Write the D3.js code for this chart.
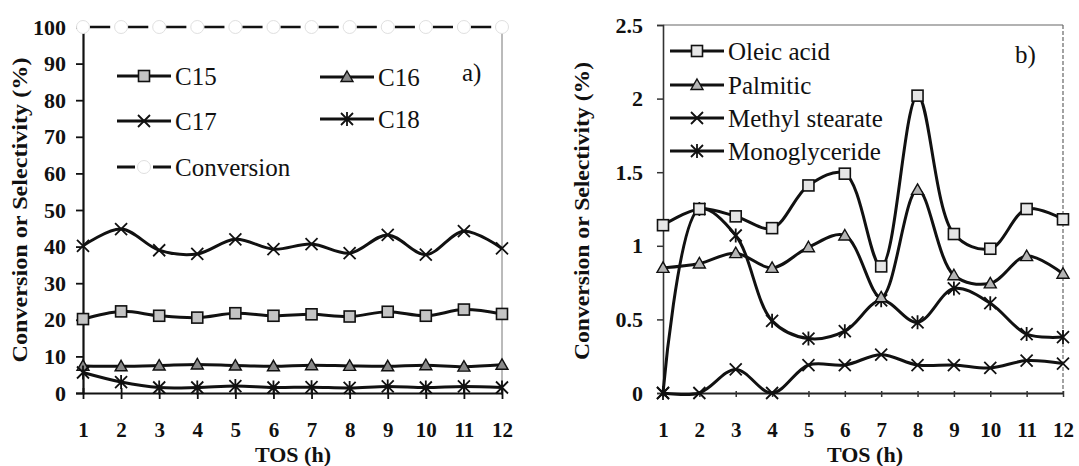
<!DOCTYPE html>
<html>
<head>
<meta charset="utf-8">
<script src="https://cdn.jsdelivr.net/npm/d3@7"></script>
<style>
  body { margin: 0; background: #fff; }
  svg { display: block; }
  text { font-family: "Liberation Serif", "Times New Roman", "DejaVu Serif", serif; }
</style>
</head>
<body>
<svg width="1079" height="466"></svg>
<script>
// TOS (h)
const tos = [1, 2, 3, 4, 5, 6, 7, 8, 9, 10, 11, 12];

// panel a) selectivity / conversion (%)
const c15 = [20.2, 22.3, 21.1, 20.6, 21.8, 21.1, 21.5, 20.9, 22.2, 21.1, 22.8, 21.6];
const c16 = [7.4, 7.3, 7.5, 7.8, 7.5, 7.3, 7.6, 7.4, 7.3, 7.6, 7.2, 7.7];
const c17 = [40.2, 44.8, 39.0, 38.0, 42.0, 39.3, 40.7, 38.2, 43.2, 37.8, 44.2, 39.5];
const c18 = [5.6, 3.0, 1.5, 1.5, 1.9, 1.5, 1.6, 1.4, 1.8, 1.5, 1.8, 1.5];
const conversion = [100, 100, 100, 100, 100, 100, 100, 100, 100, 100, 100, 100];
const ticksA = [0, 10, 20, 30, 40, 50, 60, 70, 80, 90, 100];

// panel b) by-products (%)
const oleic = [1.14, 1.25, 1.2, 1.12, 1.41, 1.49, 0.86, 2.02, 1.08, 0.98, 1.25, 1.18];
const palmitic = [0.85, 0.88, 0.95, 0.85, 0.99, 1.07, 0.65, 1.38, 0.8, 0.745, 0.93, 0.81];
const methylStearate = [0, 0, 0.16, 0, 0.19, 0.19, 0.26, 0.19, 0.19, 0.17, 0.22, 0.2];
const monoglyceride = [0, 1.25, 1.07, 0.49, 0.37, 0.42, 0.63, 0.48, 0.71, 0.61, 0.4, 0.38];
const ticksB = [0, 0.5, 1, 1.5, 2, 2.5];

const FONT = '"Liberation Serif", "Times New Roman", "DejaVu Serif", serif';
const svg = d3.select("svg");

function marker(g, type, x, y, fill) {
    if (type === "square") {
        g.append("rect").attr("x", x - 5.5).attr("y", y - 5.5)
            .attr("width", 11).attr("height", 11)
            .attr("fill", fill).attr("stroke", "#111").attr("stroke-width", 1.6);
    } else if (type === "triangle") {
        g.append("path")
            .attr("d", `M${x},${y - 6}L${x + 6},${y + 4.5}L${x - 6},${y + 4.5}Z`)
            .attr("fill", fill).attr("stroke", "#111").attr("stroke-width", 1.4);
    } else if (type === "x") {
        g.append("path")
            .attr("d", `M${x - 6},${y - 6}L${x + 6},${y + 6}M${x - 6},${y + 6}L${x + 6},${y - 6}`)
            .attr("stroke", "#111").attr("stroke-width", 1.8);
    } else if (type === "star") {
        g.append("path")
            .attr("d", `M${x - 6},${y - 6}L${x + 6},${y + 6}M${x - 6},${y + 6}L${x + 6},${y - 6}M${x},${y - 7}L${x},${y + 7}`)
            .attr("stroke", "#111").attr("stroke-width", 1.8);
    } else if (type === "circle") {
        g.append("circle").attr("cx", x).attr("cy", y).attr("r", 6.5)
            .attr("fill", "#fff").attr("stroke", "#e0e0e0").attr("stroke-width", 1);
    }
}

function series(g, x, y, values, type, fill, dash) {
    const line = d3.line()
        .x((d, i) => x(tos[i]))
        .y(d => y(d))
        .curve(d3.curveCatmullRom.alpha(0.5));
    const p = g.append("path")
        .attr("d", line(values))
        .attr("fill", "none")
        .attr("stroke", "#111")
        .attr("stroke-width", 3);
    if (dash) {
        const step = x(2) - x(1);
        p.attr("stroke-dasharray", `${step * 0.53},${step * 0.47}`)
            .attr("stroke-dashoffset", step - 7)
            .attr("stroke-width", 2.6);
    }
    values.forEach((v, i) => marker(g, type, x(tos[i]), y(v), fill));
}

function legendRow(g, x0, y0, type, fill, label, dash) {
    if (dash) {
        g.append("line").attr("x1", x0).attr("x2", x0 + 18).attr("y1", y0).attr("y2", y0)
            .attr("stroke", "#111").attr("stroke-width", 3);
        g.append("line").attr("x1", x0 + 36).attr("x2", x0 + 54).attr("y1", y0).attr("y2", y0)
            .attr("stroke", "#111").attr("stroke-width", 3);
    } else {
        g.append("line").attr("x1", x0).attr("x2", x0 + 54).attr("y1", y0).attr("y2", y0)
            .attr("stroke", "#111").attr("stroke-width", 3);
    }
    marker(g, type, x0 + 27, y0, fill);
    g.append("text").attr("x", x0 + 58).attr("y", y0 + 9)
        .attr("font-family", FONT).attr("font-size", 25).attr("fill", "#111").text(label);
}

function styleTicks(a, size) {
    a.selectAll("text").attr("font-size", size).attr("font-weight", "bold")
        .attr("font-family", FONT).attr("fill", "#111");
}

// ---------- panel a ----------
const xA = d3.scaleLinear().domain([1, 12]).range([83, 502]);
const yA = d3.scaleLinear().domain([0, 100]).range([393, 27]);
const gA = svg.append("g");

gA.append("line").attr("x1", xA(12)).attr("x2", xA(12)).attr("y1", yA(100)).attr("y2", yA(0))
    .attr("stroke", "#777").attr("stroke-width", 1);

gA.append("g")
    .attr("transform", `translate(${xA(1)},0)`)
    .call(d3.axisLeft(yA).tickValues(ticksA).tickSize(7).tickPadding(10))
    .call(a => a.select(".domain").attr("stroke-width", 2.2).attr("stroke", "#111"))
    .call(a => a.selectAll(".tick line").attr("stroke-width", 1.8).attr("stroke", "#111"))
    .call(a => styleTicks(a, 22));

gA.append("g")
    .attr("transform", `translate(0,${yA(0)})`)
    .call(d3.axisBottom(xA).tickValues(tos).tickSizeInner(6).tickSizeOuter(0).tickPadding(23))
    .call(a => a.select(".domain").attr("stroke-width", 2.2).attr("stroke", "#111"))
    .call(a => a.selectAll(".tick line").attr("y1", -5).attr("stroke-width", 1.8).attr("stroke", "#111"))
    .call(a => styleTicks(a, 21));

series(gA, xA, yA, c16, "triangle", "#8a8a8a");
series(gA, xA, yA, c18, "star", "#111");
series(gA, xA, yA, c15, "square", "#c4c4c4");
series(gA, xA, yA, c17, "x", "#111");
series(gA, xA, yA, conversion, "circle", "#fff", true);

legendRow(gA, 117, 76, "square", "#c4c4c4", "C15");
legendRow(gA, 320, 77, "triangle", "#8a8a8a", "C16");
legendRow(gA, 117, 121, "x", "#111", "C17");
legendRow(gA, 320, 119, "star", "#111", "C18");
legendRow(gA, 117, 167, "circle", "#fff", "Conversion", true);

gA.append("text").attr("x", 462).attr("y", 81).attr("font-family", FONT)
    .attr("font-size", 25).attr("fill", "#111").text("a)");

gA.append("text").attr("transform", "translate(27,210) rotate(-90)")
    .attr("text-anchor", "middle").attr("font-family", FONT).attr("font-size", 22).attr("font-weight", "bold")
    .attr("textLength", 305).attr("lengthAdjust", "spacingAndGlyphs").attr("fill", "#111")
    .text("Conversion or Selectivity (%)");
gA.append("text").attr("x", 293).attr("y", 462).attr("text-anchor", "middle").attr("font-family", FONT)
    .attr("font-size", 22).attr("font-weight", "bold").attr("fill", "#111").text("TOS (h)");

// ---------- panel b ----------
const xB = d3.scaleLinear().domain([1, 12]).range([663, 1063]);
const yB = d3.scaleLinear().domain([0, 2.5]).range([393, 25]);
const gB = svg.append("g");

gB.append("line").attr("x1", xB(1)).attr("x2", xB(12)).attr("y1", yB(2.5)).attr("y2", yB(2.5))
    .attr("stroke", "#666").attr("stroke-width", 1.2);
gB.append("line").attr("x1", xB(12)).attr("x2", xB(12)).attr("y1", yB(2.5)).attr("y2", yB(0))
    .attr("stroke", "#666").attr("stroke-width", 1.2).attr("stroke-dasharray", "4,2");

gB.append("g")
    .attr("transform", `translate(${xB(1)},0)`)
    .call(d3.axisLeft(yB).tickValues(ticksB).tickFormat(d3.format("")).tickSize(6).tickPadding(14))
    .call(a => a.select(".domain").attr("stroke-width", 1.6).attr("stroke", "#333"))
    .call(a => a.selectAll(".tick line").attr("stroke-width", 1.5).attr("stroke", "#333"))
    .call(a => styleTicks(a, 22));

gB.append("g")
    .attr("transform", `translate(0,${yB(0)})`)
    .call(d3.axisBottom(xB).tickValues(tos).tickSizeInner(4).tickSizeOuter(0).tickPadding(25))
    .call(a => a.select(".domain").attr("stroke-width", 1.8).attr("stroke", "#222"))
    .call(a => a.selectAll(".tick line").attr("y1", -2).attr("stroke-width", 1.5).attr("stroke", "#333"))
    .call(a => styleTicks(a, 21));

series(gB, xB, yB, methylStearate, "x", "#111");
series(gB, xB, yB, monoglyceride, "star", "#111");
series(gB, xB, yB, palmitic, "triangle", "#b5b5b5");
series(gB, xB, yB, oleic, "square", "#e6e6e6");

legendRow(gB, 670, 51, "square", "#e6e6e6", "Oleic acid");
legendRow(gB, 670, 85, "triangle", "#b5b5b5", "Palmitic");
legendRow(gB, 670, 118, "x", "#111", "Methyl stearate");
legendRow(gB, 670, 151, "star", "#111", "Monoglyceride");

gB.append("text").attr("x", 1015).attr("y", 63).attr("font-family", FONT)
    .attr("font-size", 25).attr("fill", "#111").text("b)");

gB.append("text").attr("transform", "translate(589,211) rotate(-90)")
    .attr("text-anchor", "middle").attr("font-family", FONT).attr("font-size", 21).attr("font-weight", "bold")
    .attr("textLength", 298).attr("lengthAdjust", "spacingAndGlyphs").attr("fill", "#111")
    .text("Conversion or Selectivity (%)");
gB.append("text").attr("x", 865).attr("y", 462).attr("text-anchor", "middle").attr("font-family", FONT)
    .attr("font-size", 22).attr("font-weight", "bold").attr("fill", "#111").text("TOS (h)");
</script>
</body>
</html>
